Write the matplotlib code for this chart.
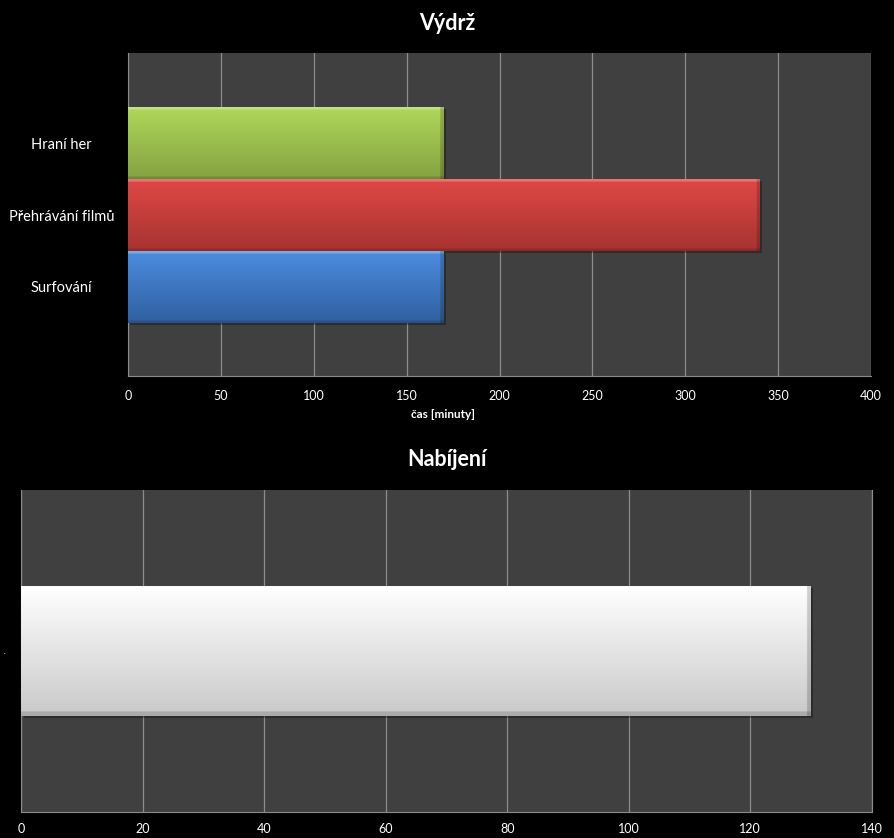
import numpy as np
import matplotlib
matplotlib.use("Agg")
import matplotlib.pyplot as plt
import matplotlib.patheffects as pe
from matplotlib.colors import to_rgb

plt.rcParams['font.family'] = ['Lato', 'DejaVu Sans']

# Battery life (minutes)
vydrz_labels = ["Surfování", "Přehrávání filmů", "Hraní her"]
vydrz_values = [170, 340, 170]
vydrz_ticks = [0, 50, 100, 150, 200, 250, 300, 350, 400]

# Charging time (minutes)
nabijeni_labels = ["."]
nabijeni_values = [130]
nabijeni_ticks = [0, 20, 40, 60, 80, 100, 120, 140]

# (top, bottom) gradient colours per bar
vydrz_colors = [("#4c8de0", "#2f609f"), ("#df4845", "#a63331"), ("#b0d85a", "#84a140")]
nabijeni_colors = [("#ffffff", "#c9c9c9")]

BG = "#000000"
PLOT_BG = "#404040"
GRID = "#8c8c8c"


def gradient_bar(ax, y, value, height, top, bottom, xspan_px):
    """Horizontal bar filled with a vertical gradient and a soft bevel."""
    bar = ax.barh(y, value, height=height, color=bottom, edgecolor='none', zorder=3)[0]
    bar.set_path_effects([pe.SimplePatchShadow(offset=(1.5, -1.5), shadow_rgbFace="black", alpha=0.3),
                          pe.Normal()])
    H, W = 200, 600
    t = np.linspace(0, 1, H)[:, None]  # 0 = bottom row, 1 = top row
    top_c = np.array(to_rgb(top))
    bot_c = np.array(to_rgb(bottom))
    rows = bot_c + (top_c - bot_c) * t  # (H,3)
    img = np.repeat(rows[:, None, :], W, axis=1)
    # light strip along the top edge, darker strip along the bottom edge
    edge = int(H * 0.035)
    img[-edge:] = np.clip(img[-edge:] * 0.75 + 0.25, 0, 1)
    img[:edge] = img[:edge] * 0.85
    # darker bevel on the right end
    bar_px = value / xspan_px
    ncol = max(1, int(W * 4.0 / bar_px))
    img[:, -ncol:] = img[:, -ncol:] * 0.82
    im = ax.imshow(img, extent=(0, value, y - height / 2, y + height / 2), origin='lower',
                   aspect='auto', zorder=4, interpolation='bilinear')
    im.set_clip_path(bar)


def style_axes(ax, ticks):
    ax.set_facecolor(PLOT_BG)
    ax.set_xticks(ticks)
    ax.set_xticklabels([str(v) for v in ticks], color="white", fontsize=9)
    ax.tick_params(axis='x', length=0, pad=10)
    ax.tick_params(axis='y', length=0, pad=8)
    for x in ticks:
        ax.axvline(x, color=GRID, lw=0.9, zorder=1)
    for side in ["top", "right"]:
        ax.spines[side].set_visible(False)
    ax.spines["left"].set_color(GRID)
    ax.spines["bottom"].set_color(GRID)


fig = plt.figure(figsize=(8.94, 8.38), dpi=100, facecolor=BG)

# --- Výdrž ---
ax1 = fig.add_axes([0.1432, 0.5513, 0.8311, 0.3851])
style_axes(ax1, vydrz_ticks)
ax1.set_xlim(vydrz_ticks[0], vydrz_ticks[-1])
pos = np.arange(len(vydrz_values))
xspan1 = (vydrz_ticks[-1] - vydrz_ticks[0]) / (0.8311 * 894)
for p, v, (tc, bc) in zip(pos, vydrz_values, vydrz_colors):
    gradient_bar(ax1, p, v, 1.0, tc, bc, xspan1)
ax1.set_xlim(vydrz_ticks[0], vydrz_ticks[-1])
ax1.set_ylim(-1.242, 3.252)
ax1.set_yticks(pos)
ax1.set_yticklabels(vydrz_labels, color="white", fontsize=10.5, ha='center')
ax1.tick_params(axis='y', pad=48)
ax1.set_xlabel("čas [minuty]", color="white", fontsize=8.5, fontweight='bold', labelpad=5,
               x=0.424, ha='center')
ax1.set_title("Výdrž", color="white", fontsize=15.5, fontweight='bold', pad=17, x=0.429)

# --- Nabíjení ---
ax2 = fig.add_axes([0.024, 0.031, 0.951, 0.3842])
style_axes(ax2, nabijeni_ticks)
ax2.spines["right"].set_visible(True)
ax2.spines["right"].set_color(GRID)
xspan2 = (nabijeni_ticks[-1] - nabijeni_ticks[0]) / (0.951 * 894)
for p, v, (tc, bc) in zip([0], nabijeni_values, nabijeni_colors):
    gradient_bar(ax2, p, v, 1.0, tc, bc, xspan2)
ax2.set_xlim(nabijeni_ticks[0], nabijeni_ticks[-1])
ax2.set_ylim(-1.241, 1.241)
ax2.set_yticks([0])
ax2.set_yticklabels(nabijeni_labels, color="white", fontsize=5)
ax2.tick_params(axis='y', pad=12)
ax2.tick_params(axis='x', pad=8)
ax2.set_title("Nabíjení", color="white", fontsize=15.5, fontweight='bold', pad=17)

fig.savefig("out.png", dpi=100, facecolor=BG)
